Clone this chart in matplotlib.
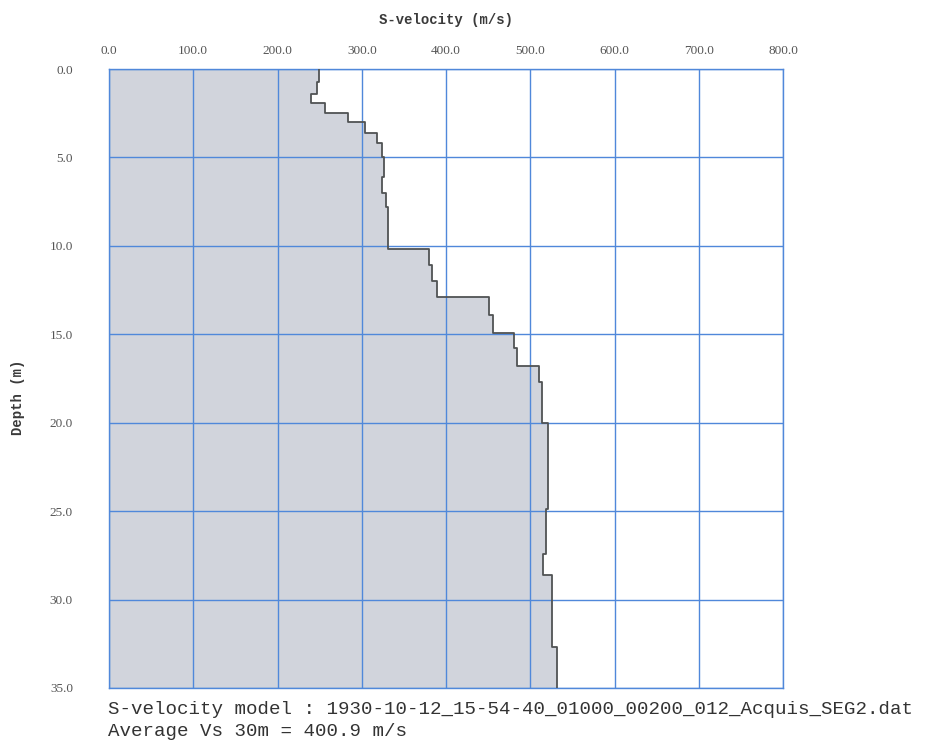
import numpy as np
import matplotlib.pyplot as plt

# layer boundaries (m) and S-velocity of each layer (m/s)
depth_edges = [0.0, 0.75, 1.4, 1.95, 2.5, 3.0, 3.6, 4.2, 5.0, 6.1, 7.0, 7.8,
               10.2, 11.1, 12.0, 12.9, 13.9, 14.9, 15.8, 16.8, 17.7, 20.0,
               24.9, 27.4, 28.6, 32.7, 35.0]
vs = [249, 247, 240, 256, 284, 304, 318, 324, 326, 324, 329, 331,
      380, 383, 389, 451, 456, 481, 484, 510, 514, 521,
      519, 515, 526, 532]

x_ticks = [0, 100, 200, 300, 400, 500, 600, 700, 800]
y_ticks = [0, 5, 10, 15, 20, 25, 30, 35]
model_name = "1930-10-12_15-54-40_01000_00200_012_Acquis_SEG2.dat"
vs30 = 400.9

fig = plt.figure(figsize=(9.27, 7.4), dpi=100)
ax = fig.add_axes([109/927, 1-688/740, (783-109)/927, (688-69)/740])

# step profile: repeat each velocity for top and bottom of its layer
d = np.repeat(depth_edges, 2)[1:-1]
v = np.repeat(vs, 2)
ax.fill_betweenx(d, 0, v, color='#d1d4dc', lw=0, zorder=1)
ax.plot(v, d, color='#505354', lw=1.3, zorder=3)

ax.set_xlim(0, 800)
ax.set_ylim(35, 0)
ax.set_xticks(x_ticks)
ax.set_yticks(y_ticks)
ax.set_xticklabels(['%.1f' % t for t in x_ticks])
ax.set_yticklabels(['%.1f' % t for t in y_ticks])
ax.xaxis.tick_top()
ax.tick_params(length=0, labelsize=9.5, labelcolor='#555555')
ax.tick_params(axis='x', pad=9)
ax.tick_params(axis='y', pad=26)
for lab in ax.get_xticklabels() + ax.get_yticklabels():
    lab.set_fontfamily('Liberation Serif')

ax.grid(True, color='#5088da', lw=1.0, zorder=2)
ax.set_axisbelow(False)
for s in ax.spines.values():
    s.set_color('#5088da')
    s.set_linewidth(1.0)

fig.text(446/927, 1-20/740, 'S-velocity (m/s)', ha='center', va='center',
         family='Liberation Mono', fontsize=10, fontweight='bold', color='#3a3a3a')
fig.text(18/927, 1-397/740, 'Depth (m)', ha='center', va='center', rotation=90,
         family='Liberation Mono', fontsize=10, fontweight='bold', color='#3a3a3a')
fig.text(108/927, 1-709/740, 'S-velocity model : ' + model_name, ha='left', va='center',
         family='Liberation Mono', fontsize=13.8, color='#333333')
fig.text(108/927, 1-731/740, 'Average Vs 30m = %.1f m/s' % vs30, ha='left', va='center',
         family='Liberation Mono', fontsize=13.8, color='#333333')

fig.savefig('out.png', dpi=100)
